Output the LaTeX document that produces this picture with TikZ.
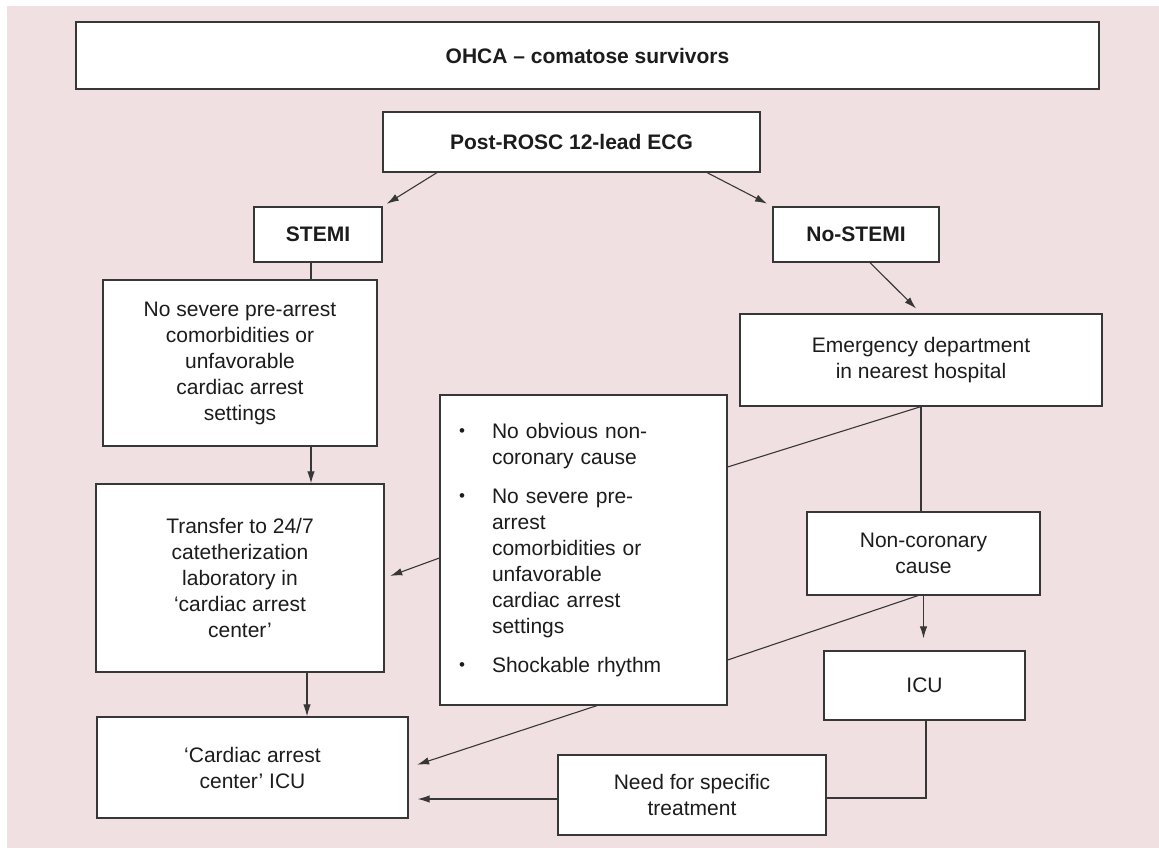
\documentclass[tikz,border=0pt]{standalone}
\usepackage{fontspec}
\setmainfont{Liberation Sans}
\usetikzlibrary{arrows.meta, positioning, calc}
\definecolor{bgpink}{RGB}{240, 224, 225}
\definecolor{edgegray}{RGB}{55, 55, 55}
\definecolor{inkdark}{RGB}{28, 28, 28}
\newcommand{\listdot}{\raisebox{2pt}{\fontsize{17}{18}\selectfont•}}
\tikzset{
    box/.style={
        rectangle, draw=edgegray, fill=white, line width=1.2pt, text=inkdark,
        font=\fontsize{21}{26}\selectfont, align=center, inner sep=0pt
    },
    boldbox/.style={box, font=\fontsize{21}{26}\selectfont\bfseries},
    titlebox/.style={boldbox, line width=2pt},
    listbox/.style={box, align=left, inner xsep=19pt, text width=249pt},
    arrow/.style={-{Latex[length=12pt, width=7.5pt]}, line width=1.1pt, color=edgegray},
    link/.style={line width=1.1pt, color=edgegray},
}
\begin{document}
\begin{tikzpicture}[x=1pt, y=-1pt]
    \useasboundingbox (0,0) rectangle (1159,848);
    \fill[bgpink] (7,6) rectangle (1159,848);

    \node[titlebox, minimum width=1023pt, minimum height=67pt] (ohca) at (587.5,55.5) {OHCA -- comatose survivors};
    \node[boldbox, minimum width=377pt, minimum height=60pt] (ecg) at (571.5,142) {Post-ROSC 12-lead ECG};

    \node[boldbox, minimum width=128pt, minimum height=55pt] (stemi) at (318,234.5) {STEMI};
    \node[boldbox, minimum width=166pt, minimum height=55pt] (nostemi) at (856,234.5) {No-STEMI};

    \node[box, minimum width=274pt, minimum height=166pt] (nosevere) at (240,363) {No severe pre-arrest\\comorbidities or\\unfavorable\\cardiac arrest\\settings};
    \node[box, minimum width=288pt, minimum height=188pt] (transfer) at (240,578) {Transfer to 24/7\\catetherization\\laboratory in\\‘cardiac arrest\\center’};
    \node[box, minimum width=311pt, minimum height=101pt] (centericu) at (252.5,767.5) {‘Cardiac arrest\\center’ ICU};

    \node[listbox, minimum width=287pt, minimum height=310pt] (criteria) at (583.5,550) {%
        \begin{tabular}{@{}p{33pt}@{}l@{}}
        \listdot&No obvious non-\\
         &coronary cause\\[13pt]
        \listdot&No severe pre-\\
         &arrest\\
         &comorbidities or\\
         &unfavorable\\
         &cardiac arrest\\
         &settings\\[13pt]
        \listdot&Shockable rhythm
        \end{tabular}};

    \node[box, minimum width=362pt, minimum height=92pt] (emergency) at (921,360) {Emergency department\\in nearest hospital};
    \node[box, minimum width=233pt, minimum height=83pt] (noncoronary) at (923.5,553.5) {Non-coronary\\cause};
    \node[box, minimum width=201pt, minimum height=69pt] (icu) at (924.5,685.5) {ICU};
    \node[box, minimum width=268pt, minimum height=80pt] (treatment) at (692,795) {Need for specific\\treatment};

    \draw[arrow, shorten >=5pt] ([xshift=-134.5pt]ecg.south) -- (stemi.north east);
    \draw[arrow, shorten >=6pt] ([xshift=135.5pt]ecg.south) -- (nostemi.north west);
    \draw[link] ([xshift=-7pt]stemi.south) -- ([xshift=-7pt]stemi.south |- nosevere.north);
    \draw[arrow] ([xshift=71pt]nosevere.south) -- ([xshift=71pt]nosevere.south |- transfer.north);
    \draw[arrow] ([xshift=67pt]transfer.south) -- ([xshift=67pt]transfer.south |- centericu.north);
    \draw[arrow, shorten >=7pt] ([xshift=14pt]nostemi.south) -- (emergency.north);

    \draw[link] (emergency.south) -- ([yshift=83pt]criteria.east);
    \draw[link] (emergency.south) -- (emergency.south |- noncoronary.north);
    \draw[link] ([xshift=-5.5pt]noncoronary.south) -- ([yshift=-110pt]criteria.east);
    \draw[arrow, shorten >=12pt] (noncoronary.south) -- (noncoronary.south |- icu.north);
    \draw[link] ([xshift=1.5pt]icu.south) |- ([yshift=-3pt]treatment.east);

    \draw[arrow, shorten >=6pt] ([yshift=-8pt]criteria.west) -- (transfer.east);
    \draw[arrow, shorten >=9pt] ([xshift=13.5pt]criteria.south) -- (centericu.east);
    \draw[arrow, shorten >=9pt] ([yshift=-4pt]treatment.west) -- ([yshift=-4pt]treatment.west -| centericu.east);
\end{tikzpicture}
\end{document}
